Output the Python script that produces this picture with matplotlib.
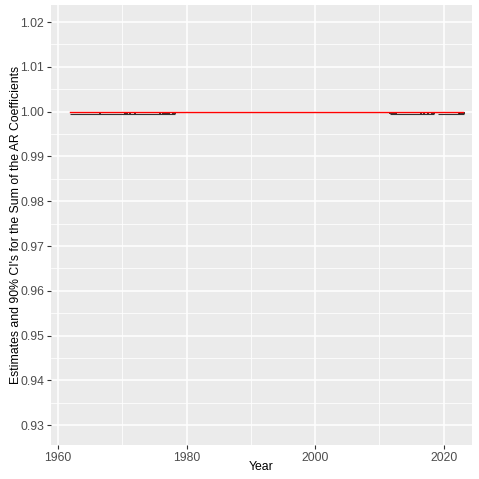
import numpy as np
import matplotlib
matplotlib.use("Agg")
import matplotlib.pyplot as plt
from matplotlib.ticker import MultipleLocator

plt.rcParams['font.family'] = ['Liberation Sans', 'DejaVu Sans']

# === DATA ===
# point estimate of the sum of AR coefficients (flat at 1.0)
est_years = [1961.9, 2023.0]
est_values = [1.0, 1.0]

# lower 90% CI bound, only where it departs from 1 (NaN breaks the line)
lo_years = [1961.9, 1978.2, np.nan, 2011.7, 2018.5, np.nan, 2019.1, 2023.2]
lo_values = [0.99958, 0.99958, np.nan, 0.99958, 0.99958, np.nan, 0.99958, 0.99958]

# years where the interval dips a bit further (small error-bar marks)
mark_years = [1966.6, 1970.4, 1970.8, 1971.2, 1972.0, 1975.9, 1976.3, 1976.7,
              1977.0, 1977.3, 1977.9, 1978.2, 2011.7, 2012.0, 2012.3, 2012.6,
              2016.5, 2017.0, 2017.6, 2018.2, 2018.5, 2022.3, 2022.6, 2022.9, 2023.2]
mark_lo = 0.99948
mark_hi = 0.99995

# === PLOT ===
fig = plt.figure(figsize=(4.79, 4.79), dpi=100)
ax = fig.add_axes([51 / 479, 1 - 445 / 479, 421 / 479, 440 / 479])

ax.set_facecolor("#EBEBEB")
for s in ax.spines.values():
    s.set_visible(False)

ax.set_xlim(1958.9, 2024.4)
ax.set_ylim(0.9256, 1.0238)
ax.xaxis.set_major_locator(MultipleLocator(20))
ax.xaxis.set_minor_locator(MultipleLocator(10))
ax.yaxis.set_major_locator(MultipleLocator(0.01))
ax.yaxis.set_minor_locator(MultipleLocator(0.005))
ax.yaxis.set_major_formatter(plt.FormatStrFormatter("%.2f"))

ax.grid(which="major", color="white", lw=1.1)
ax.grid(which="minor", color="white", lw=0.55)
ax.set_axisbelow(True)
ax.tick_params(which="major", length=3, width=0.8, color="#333333",
               labelcolor="#4D4D4D", labelsize=8.8, pad=2)
ax.tick_params(which="minor", length=0)

ax.plot(lo_years, lo_values, color="#333333", lw=0.8, solid_capstyle="butt")
ax.vlines(mark_years, mark_lo, mark_hi, color="black", lw=1.1)
ax.plot(est_years, est_values, color="red", lw=1.0)

ax.set_xlabel("Year", fontsize=8.8 * 1.25 * 0.8)
ax.set_ylabel("Estimates and 90% CI's for the Sum of the AR Coefficients",
              fontsize=8.8 * 1.25 * 0.8)
ax.xaxis.set_label_coords(0.5, -0.036)
ax.yaxis.set_label_coords(-0.069, 0.5)

plt.savefig("out.png", dpi=100)
plt.close()
